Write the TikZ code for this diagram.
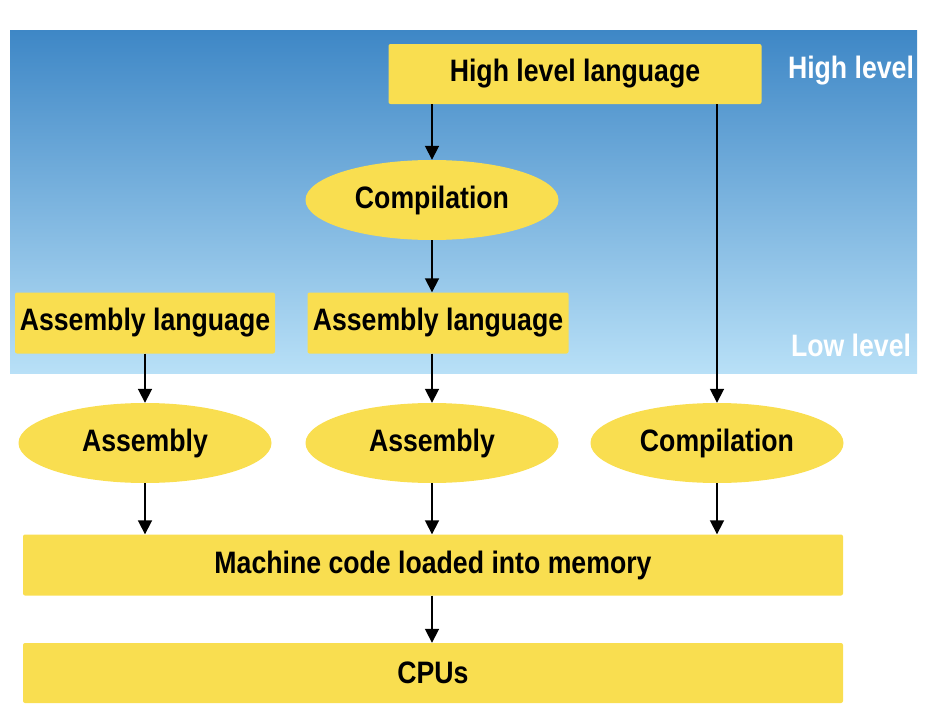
\documentclass[tikz,border=0pt]{standalone}
\usepackage{fontspec}
\setmainfont{Liberation Sans}[FakeStretch=0.86]
\usepackage{tikz}
\usetikzlibrary{shapes, arrows.meta, positioning}
\definecolor{boxyellow}{RGB}{249,222,80}
\definecolor{skytop}{RGB}{62,135,198}
\definecolor{skybottom}{RGB}{184,224,247}

\begin{document}
\begin{tikzpicture}[x=1pt, y=-1pt, >={Triangle[length=14pt,width=14pt]},
    box/.style={fill=boxyellow, rounded corners=2pt, inner sep=0pt, font=\fontsize{31}{31}\selectfont\bfseries},
    oval/.style={ellipse, fill=boxyellow, inner sep=0pt, minimum width=253pt, minimum height=80pt, font=\fontsize{31}{31}\selectfont\bfseries},
    level/.style={text=white, font=\fontsize{31}{31}\selectfont\bfseries},
    flow/.style={->, line width=1.8pt}]
    \useasboundingbox (0,0) rectangle (930,728);
    % sky band: high level at the top, low level at the bottom
    \shade[top color=skytop, bottom color=skybottom] (10,30) rectangle (917,373);

    \node[box, minimum width=373pt, minimum height=60pt] (hll) at (575,74) {High level language};
    \node[level] (high) at (851,71) {High level};
    \node[oval] (comp1) at (432,200) {Compilation};
    \node[box, minimum width=260pt, minimum height=61pt] (asm1) at (145,323) {Assembly language};
    \node[box, minimum width=261pt, minimum height=61pt] (asm2) at (438,323) {Assembly language};
    \node[level] (low) at (851,345) {Low level};

    \node[oval] (ass1) at (145,443) {Assembly};
    \node[oval] (ass2) at (432,443) {Assembly};
    \node[oval] (comp2) at (717,443) {Compilation};

    \node[box, minimum width=820pt, minimum height=61pt] (mach) at (433,565) {Machine code loaded into memory};
    \node[box, minimum width=820pt, minimum height=60pt] (cpu) at (433,673) {CPUs};

    \draw[flow] (hll.south -| comp1.north) -- (comp1.north);
    \draw[flow] (hll.south -| comp2.north) -- (comp2.north);
    \draw[flow] (comp1.south) -- (asm2.north -| comp1.south);
    \draw[flow] (asm1.south -| ass1.north) -- (ass1.north);
    \draw[flow] (asm2.south -| ass2.north) -- (ass2.north);
    \draw[flow] (ass1.south) -- (mach.north -| ass1.south);
    \draw[flow] (ass2.south) -- (mach.north -| ass2.south);
    \draw[flow] (comp2.south) -- (mach.north -| comp2.south);
    \draw[flow] (mach.south -| ass2.south) -- (cpu.north -| ass2.south);
\end{tikzpicture}
\end{document}
